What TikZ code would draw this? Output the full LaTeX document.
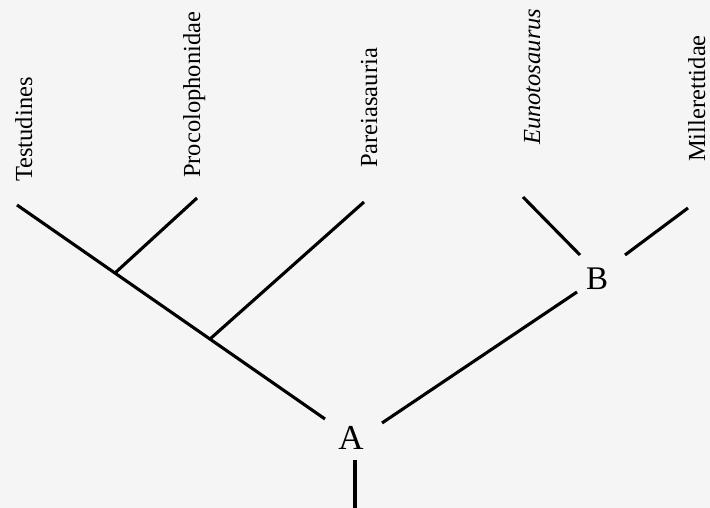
\documentclass[tikz,border=0pt]{standalone}
\usepackage{fontspec}
\setmainfont{Liberation Serif}
\begin{document}
\begin{tikzpicture}[x=1pt,y=1pt,
  taxon/.style={rotate=90,anchor=base west,inner sep=0pt,font=\fontsize{24.5}{24.5}\selectfont,text=black},
  nodelbl/.style={inner sep=0pt,text=black},
  branch/.style={line width=3.1pt,draw=black}]
\fill[black!4] (0,0) rectangle (710,508);
\useasboundingbox (0,0) rectangle (710,508);
% taxon labels
\node[taxon] (testu) at (32,326) {Testudines};
\node[taxon] (procol) at (200,330) {Procolophonidae};
\node[taxon] (pareia) at (377,340) {Pareiasauria};
\node[taxon] (eunoto) at (540,363) {\itshape Eunotosaurus};
\node[taxon] (miller) at (705,346) {Millerettidae};
% node labels
\node[nodelbl,font=\fontsize{35}{35}\selectfont] (A) at (351,70) {A};
\node[nodelbl,font=\fontsize{33}{33}\selectfont] (B) at (597,229) {B};
% branch points
\coordinate (tT) at (17,303);
\coordinate (jP) at (115,235);
\coordinate (jPa) at (210,169);
\coordinate (aL) at (325,89);
\coordinate (tP) at (197,310);
\coordinate (tPa) at (364,306);
\coordinate (tE) at (523,311);
\coordinate (eE) at (580,253);
\coordinate (tM) at (688,300);
\coordinate (eM) at (625,253);
\coordinate (bU) at (577,216);
\coordinate (aR) at (382,85);
\coordinate (rootTop) at (355,48);
\coordinate (root) at (355,0);
% branches
\draw[branch] (tT) -- (aL);
\draw[branch] (tP) -- (jP);
\draw[branch] (tPa) -- (jPa);
\draw[branch] (tE) -- (eE);
\draw[branch] (tM) -- (eM);
\draw[branch] (bU) -- (aR);
\draw[branch] (rootTop) -- (root);
\end{tikzpicture}
\end{document}
